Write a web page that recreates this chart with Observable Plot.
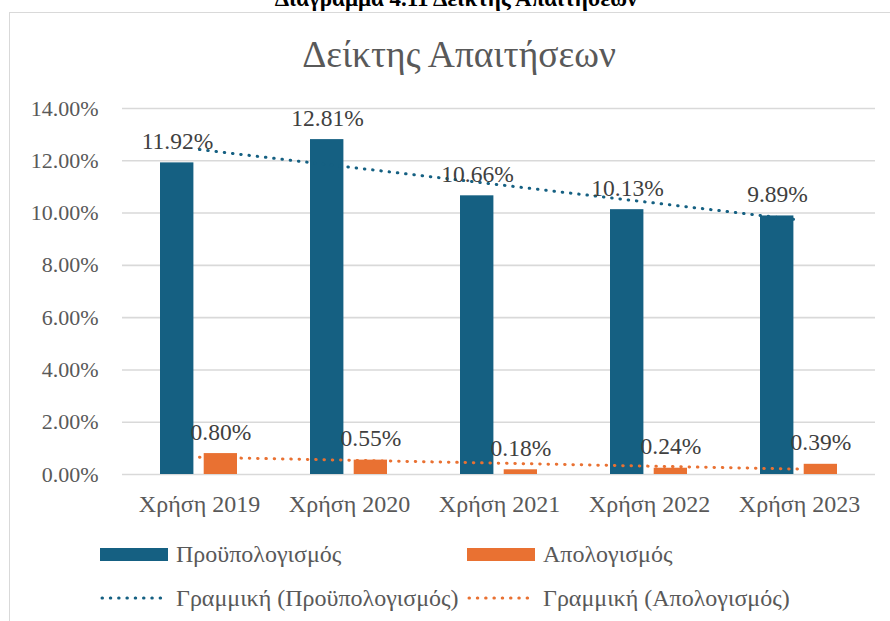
<!DOCTYPE html>
<html>
<head>
<meta charset="utf-8">
<script src="https://cdn.jsdelivr.net/npm/d3@7"></script>
<script src="https://cdn.jsdelivr.net/npm/@observablehq/plot@0.6"></script>
<style>
  html, body { margin: 0; padding: 0; background: #fff; }
  body { width: 890px; height: 621px; overflow: hidden; position: relative; font-family: "Liberation Serif", "Times New Roman", serif; }
  #doctitle { position: absolute; left: 0; width: 912px; top: -14px; text-align: center; font-weight: bold; font-size: 23px; color: #000; }
  #frame { position: absolute; left: 9px; top: 12px; width: 900px; height: 640px; border: 1px solid #d9d9d9; box-sizing: border-box; background: #fff; }
  #title { position: absolute; left: 0; width: 918px; top: 33px; text-align: center; font-size: 37.5px; color: #595959; }
  #chart { position: absolute; left: 0; top: 0; }
  .leg { position: absolute; display: flex; align-items: center; font-size: 24px; color: #595959; white-space: nowrap; }
  .sw { width: 68px; height: 13px; margin-right: 8px; }
  .ln { margin-right: 8px; }
</style>
</head>
<body>
<div id="doctitle">Διάγραμμα  4.11 Δείκτης Απαιτήσεων</div>
<div id="frame"></div>
<div id="title">Δείκτης Απαιτήσεων</div>
<div id="chart"></div>
<div id="legend"></div>
<script>
const years = ["Χρήση 2019", "Χρήση 2020", "Χρήση 2021", "Χρήση 2022", "Χρήση 2023"];
const budget = [11.92, 12.81, 10.66, 10.13, 9.89];   // Προϋπολογισμός
const actual = [0.80, 0.55, 0.18, 0.24, 0.39];       // Απολογισμός
const yTicks = [0, 2, 4, 6, 8, 10, 12, 14];
const seriesNames = ["Προϋπολογισμός", "Απολογισμός"];
const trendNames = ["Γραμμική (Προϋπολογισμός)", "Γραμμική (Απολογισμός)"];
const colors = ["#156082", "#e97132"];

// linear trend (least squares over category index), as Excel does
function trend(vals) {
  const xs = vals.map((_, i) => i + 1);
  const mx = d3.mean(xs), my = d3.mean(vals);
  const sxy = d3.sum(xs, (x, i) => (x - mx) * (vals[i] - my));
  const sxx = d3.sum(xs, x => (x - mx) ** 2);
  const b = sxy / sxx, a = my - b * mx;
  return xs.map(x => a + b * x);
}

const budgetData = years.map((year, i) => ({year, value: budget[i]}));
const actualData = years.map((year, i) => ({year, value: actual[i]}));
const budgetTrend = trend(budget).map((value, i) => ({year: years[i], value}));
const actualTrend = trend(actual).map((value, i) => ({year: years[i], value}));

const fmt = v => v.toFixed(2) + "%";
const dotted = {strokeWidth: 3, strokeDasharray: "0.5 7.8", strokeLinecap: "round"};

const chart = Plot.plot({
  width: 890,
  height: 530,
  marginTop: 108,
  marginBottom: 56,
  marginLeft: 122,
  marginRight: 15,
  style: {fontFamily: "'Liberation Serif', 'Times New Roman', serif", fontSize: "22px", color: "#595959", background: "transparent", overflow: "visible"},
  x: {domain: years, padding: 0, tickSize: 0, tickPadding: 20, label: null},
  y: {domain: [0, 14], ticks: yTicks, tickFormat: fmt, tickSize: 0, tickPadding: 24, label: null},
  marks: [
    Plot.ruleY(yTicks, {stroke: "#d9d9d9", strokeWidth: 1.6}),
    Plot.barY(budgetData, {x: "year", y: "value", fill: colors[0], insetLeft: 36, insetRight: 80.6}),
    Plot.barY(actualData, {x: "year", y: "value", fill: colors[1], insetLeft: 79.7, insetRight: 37}),
    Plot.line(budgetTrend, {x: "year", y: "value", stroke: colors[0], ...dotted}),
    Plot.line(actualTrend, {x: "year", y: "value", stroke: colors[1], ...dotted}),
    Plot.text(budgetData, {x: "year", y: "value", text: d => fmt(d.value), dx: -22, dy: -14, lineAnchor: "bottom", fill: "#404040", fontSize: 23.5}),
    Plot.text(actualData, {x: "year", y: "value", text: d => fmt(d.value), dx: 21.4, dy: -14, lineAnchor: "bottom", fill: "#404040", fontSize: 23.5})
  ]
});
chart.querySelectorAll("g[aria-label='x-axis tick label'] text, g[aria-label='x-axis'] text").forEach(t => t.setAttribute("font-size", "24px"));
document.getElementById("chart").appendChild(chart);

// legend
const legend = document.getElementById("legend");
const items = [
  {label: seriesNames[0], color: colors[0], type: "bar", left: 100, top: 554},
  {label: seriesNames[1], color: colors[1], type: "bar", left: 467, top: 554},
  {label: trendNames[0], color: colors[0], type: "line", left: 100, top: 598},
  {label: trendNames[1], color: colors[1], type: "line", left: 467, top: 598}
];
for (const it of items) {
  const d = document.createElement("div");
  d.className = "leg";
  d.style.left = it.left + "px";
  d.style.top = (it.top - 15) + "px";
  d.style.height = "30px";
  if (it.type === "bar") {
    const s = document.createElement("span");
    s.className = "sw";
    s.style.background = it.color;
    d.appendChild(s);
  } else {
    const ns = "http://www.w3.org/2000/svg";
    const svg = document.createElementNS(ns, "svg");
    svg.setAttribute("width", 68); svg.setAttribute("height", 6);
    svg.setAttribute("class", "ln");
    const l = document.createElementNS(ns, "line");
    l.setAttribute("x1", 2); l.setAttribute("x2", 68); l.setAttribute("y1", 3); l.setAttribute("y2", 3);
    l.setAttribute("stroke", it.color); l.setAttribute("stroke-width", 3);
    l.setAttribute("stroke-dasharray", "0.5 7.8"); l.setAttribute("stroke-linecap", "round");
    svg.appendChild(l);
    d.appendChild(svg);
  }
  const t = document.createElement("span");
  t.textContent = it.label;
  d.appendChild(t);
  legend.appendChild(d);
}
</script>
</body>
</html>
